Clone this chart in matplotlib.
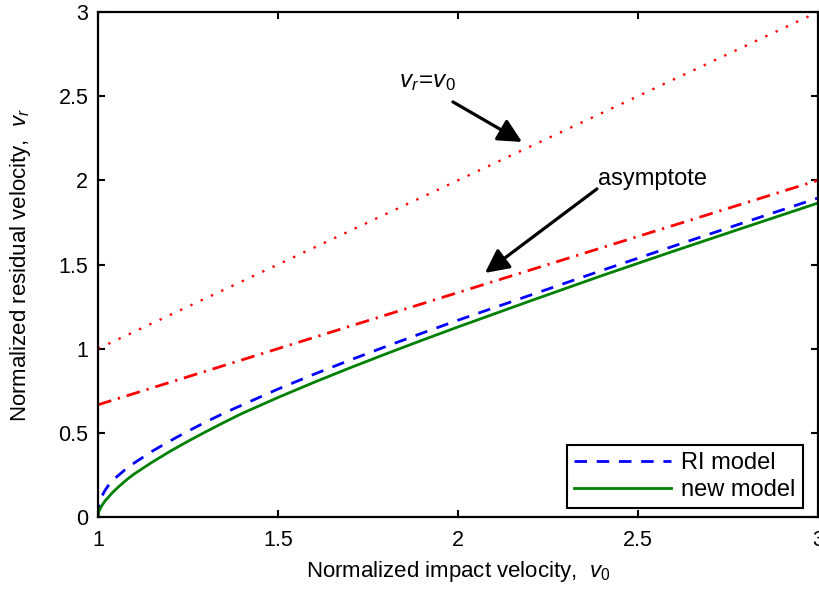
import matplotlib
matplotlib.use('Agg')
import matplotlib.pyplot as plt

plt.rcParams['font.family'] = ['Liberation Sans', 'DejaVu Sans']
plt.rcParams['mathtext.fontset'] = 'custom'
plt.rcParams['mathtext.rm'] = 'Liberation Sans'
plt.rcParams['mathtext.it'] = 'Liberation Sans:italic'

# normalized impact velocity v0 and residual velocity vr
v0_new = [1.000, 1.002, 1.005, 1.01, 1.02, 1.03, 1.04, 1.06, 1.08, 1.10,
          1.15, 1.20, 1.25, 1.30, 1.35, 1.40, 1.50, 1.60, 1.70, 1.80, 1.90,
          2.00, 2.20, 2.40, 2.60, 2.80, 3.00]
vr_new = [0.00, 0.03, 0.045, 0.065, 0.097, 0.12, 0.145, 0.185, 0.222, 0.255,
          0.325, 0.39, 0.45, 0.507, 0.562, 0.615, 0.71, 0.80, 0.886, 0.969,
          1.05, 1.129, 1.283, 1.434, 1.58, 1.723, 1.865]

v0_ri = [1.000, 1.002, 1.005, 1.01, 1.02, 1.03, 1.05, 1.08, 1.10, 1.15, 1.20,
         1.25, 1.30, 1.35, 1.40, 1.50, 1.60, 1.70, 1.80, 1.90, 2.00, 2.20,
         2.40, 2.60, 2.80, 3.00]
vr_ri = [0.00, 0.06, 0.09, 0.12, 0.16, 0.19, 0.235, 0.29, 0.32, 0.39, 0.452,
         0.51, 0.565, 0.617, 0.665, 0.76, 0.848, 0.932, 1.013, 1.092, 1.169,
         1.317, 1.465, 1.61, 1.753, 1.895]

# straight reference lines, end points only
v0_ident = [1.0, 3.0]
vr_ident = [1.0, 3.0]
v0_asym = [1.0, 3.0]
vr_asym = [2.0 / 3.0, 2.0]

fig = plt.figure(figsize=(8.2, 5.91), dpi=100)
ax = fig.add_axes([0.1195, 0.1252, 0.878, 0.8545])

ax.plot(v0_ident, vr_ident, color='red', lw=1.7, dashes=(1, 3.8))
ax.plot(v0_asym, vr_asym, color='red', lw=2, dashes=(5, 2.5, 0.8, 2.5))
l_ri, = ax.plot(v0_ri, vr_ri, color='blue', lw=2, dashes=(4.5, 3.5))
l_new, = ax.plot(v0_new, vr_new, color='#008000', lw=2)

ax.set_xlim(1, 3)
ax.set_ylim(0, 3)
ax.set_xticks([1, 1.5, 2, 2.5, 3])
ax.set_xticklabels(['1', '1.5', '2', '2.5', '3'])
ax.set_yticks([0, 0.5, 1, 1.5, 2, 2.5, 3])
ax.set_yticklabels(['0', '0.5', '1', '1.5', '2', '2.5', '3'])
ax.tick_params(direction='in', length=5, width=1.5, top=True, right=True,
               labelsize=15.5)
ax.tick_params(axis='x', pad=9)
ax.tick_params(axis='y', pad=7)
for s in ax.spines.values():
    s.set_linewidth(1.6)

ax.set_xlabel(r'Normalized impact velocity,  $v_0$', fontsize=16, labelpad=6)
ax.set_ylabel(r'Normalized residual velocity,  $v_r$', fontsize=16, labelpad=18)

arrow = dict(arrowstyle='-|>', color='black', lw=2.3, mutation_scale=36,
             shrinkA=0, shrinkB=0)
ax.annotate('', xy=(2.178, 2.228), xytext=(1.986, 2.466), arrowprops=arrow)
ax.text(1.835, 2.555, r'$v_r\!=\!v_0$', fontsize=17.5, ha='left', va='baseline')
ax.annotate('', xy=(2.075, 1.45), xytext=(2.386, 1.949), arrowprops=arrow)
ax.text(2.389, 1.973, 'asymptote', fontsize=17, ha='left', va='baseline')

leg = ax.legend([l_ri, l_new], ['RI model', 'new model'], loc='lower right',
                bbox_to_anchor=(0.979, 0.018), fontsize=17, fancybox=False,
                framealpha=1, edgecolor='black', handlelength=4.1,
                borderpad=0.3, labelspacing=0.2, handletextpad=0.45,
                borderaxespad=0)
leg.get_frame().set_linewidth(1.5)

fig.savefig('out.png', dpi=100)
